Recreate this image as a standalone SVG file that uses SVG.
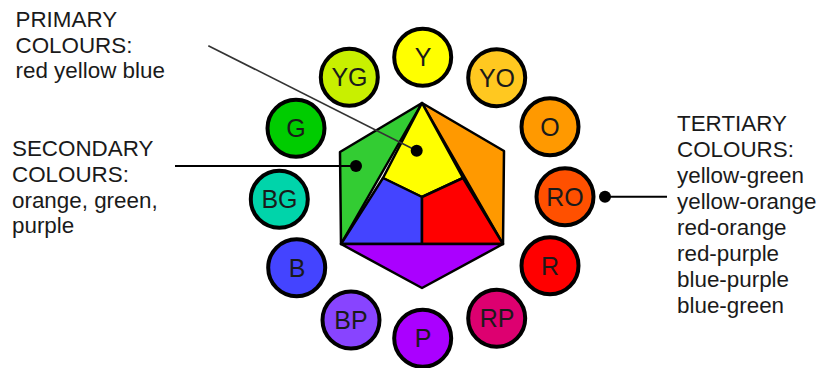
<svg xmlns="http://www.w3.org/2000/svg" width="820" height="368" viewBox="0 0 820 368">
<style>
.lbl{font-family:"Liberation Sans",Arial,sans-serif;font-size:22.4px;fill:#1a1a1a}
.cl{font-family:"Liberation Sans",Arial,sans-serif;font-size:25px;fill:#1a1a1a;text-anchor:middle}
.c{stroke:#000;stroke-width:4}
.h{stroke:#000;stroke-width:2.5;stroke-linejoin:round}
.dot{fill:#000}
</style>
<rect width="820" height="368" fill="#fff"/>
<g id="hexagon">
<polygon class="h" fill="#33CC33" points="422,103 340,152 341,244"/>
<polygon class="h" fill="#FF9900" points="422,103 504,151 503,244"/>
<polygon class="h" fill="#FFFF00" points="422,103 383,178 422,197 463,178"/>
<polygon class="h" fill="#4444FF" points="383,178 341,244 422,244 422,197"/>
<polygon class="h" fill="#FF0000" points="463,178 503,244 422,244 422,197"/>
<polygon class="h" fill="#AA00FF" points="341,244 503,244 422,288"/>
</g>
<g id="c-Y"><circle class="c" cx="422.7" cy="57.3" r="28.5" fill="#FFFF00"/><text class="cl" x="423" y="66.3">Y</text></g>
<g id="c-YO"><circle class="c" cx="496.7" cy="77.7" r="28.5" fill="#FFC820"/><text class="cl" x="497" y="86.7">YO</text></g>
<g id="c-O"><circle class="c" cx="550" cy="126.7" r="28.5" fill="#FF9900"/><text class="cl" x="550" y="135.7">O</text></g>
<g id="c-RO"><circle class="c" cx="565" cy="196.7" r="28.5" fill="#FF5000"/><text class="cl" x="565" y="205.7">RO</text></g>
<g id="c-R"><circle class="c" cx="550" cy="265.7" r="28.5" fill="#FF0000"/><text class="cl" x="550" y="274.7">R</text></g>
<g id="c-RP"><circle class="c" cx="496.7" cy="318.3" r="28.5" fill="#DD0070"/><text class="cl" x="497" y="327.3">RP</text></g>
<g id="c-P"><circle class="c" cx="422.7" cy="338.3" r="28.5" fill="#AA00FF"/><text class="cl" x="423" y="347.3">P</text></g>
<g id="c-BP"><circle class="c" cx="351" cy="320" r="28.5" fill="#8844FF"/><text class="cl" x="351" y="329">BP</text></g>
<g id="c-B"><circle class="c" cx="296.7" cy="267.7" r="28.5" fill="#4444FF"/><text class="cl" x="297" y="276.7">B</text></g>
<g id="c-BG"><circle class="c" cx="279.3" cy="199.3" r="28.5" fill="#00D4AA"/><text class="cl" x="279.5" y="208.3">BG</text></g>
<g id="c-G"><circle class="c" cx="296" cy="128.3" r="28.5" fill="#00CC00"/><text class="cl" x="296" y="137.3">G</text></g>
<g id="c-YG"><circle class="c" cx="349.3" cy="77.3" r="28.5" fill="#C8F000"/><text class="cl" x="349.5" y="86.3">YG</text></g>
<g id="connectors">
<line x1="208.3" y1="45.7" x2="416.7" y2="150.7" stroke="#333" stroke-width="1.6"/>
<circle class="dot" cx="416.7" cy="150.7" r="6"/>
<line x1="175" y1="166" x2="356" y2="166" stroke="#000" stroke-width="2"/>
<circle class="dot" cx="356" cy="166" r="6"/>
<line x1="605" y1="196.7" x2="667" y2="196.7" stroke="#000" stroke-width="2"/>
<circle class="dot" cx="605" cy="196.7" r="6"/>
</g>
<g id="primary-label">
<text class="lbl" x="15.5" y="26.7">PRIMARY</text>
<text class="lbl" x="15.5" y="52.5">COLOURS:</text>
<text class="lbl" x="15.5" y="78.3">red yellow blue</text>
</g>
<g id="secondary-label">
<text class="lbl" x="12" y="156">SECONDARY</text>
<text class="lbl" x="12" y="181.8">COLOURS:</text>
<text class="lbl" x="12" y="207.6">orange, green,</text>
<text class="lbl" x="12" y="233.4">purple</text>
</g>
<g id="tertiary-label">
<text class="lbl" x="677" y="130.5">TERTIARY</text>
<text class="lbl" x="677" y="156.5">COLOURS:</text>
<text class="lbl" x="677" y="182.5">yellow-green</text>
<text class="lbl" x="677" y="208.5">yellow-orange</text>
<text class="lbl" x="677" y="234.5">red-orange</text>
<text class="lbl" x="677" y="260.5">red-purple</text>
<text class="lbl" x="677" y="286.5">blue-purple</text>
<text class="lbl" x="677" y="312.5">blue-green</text>
</g>
</svg>
